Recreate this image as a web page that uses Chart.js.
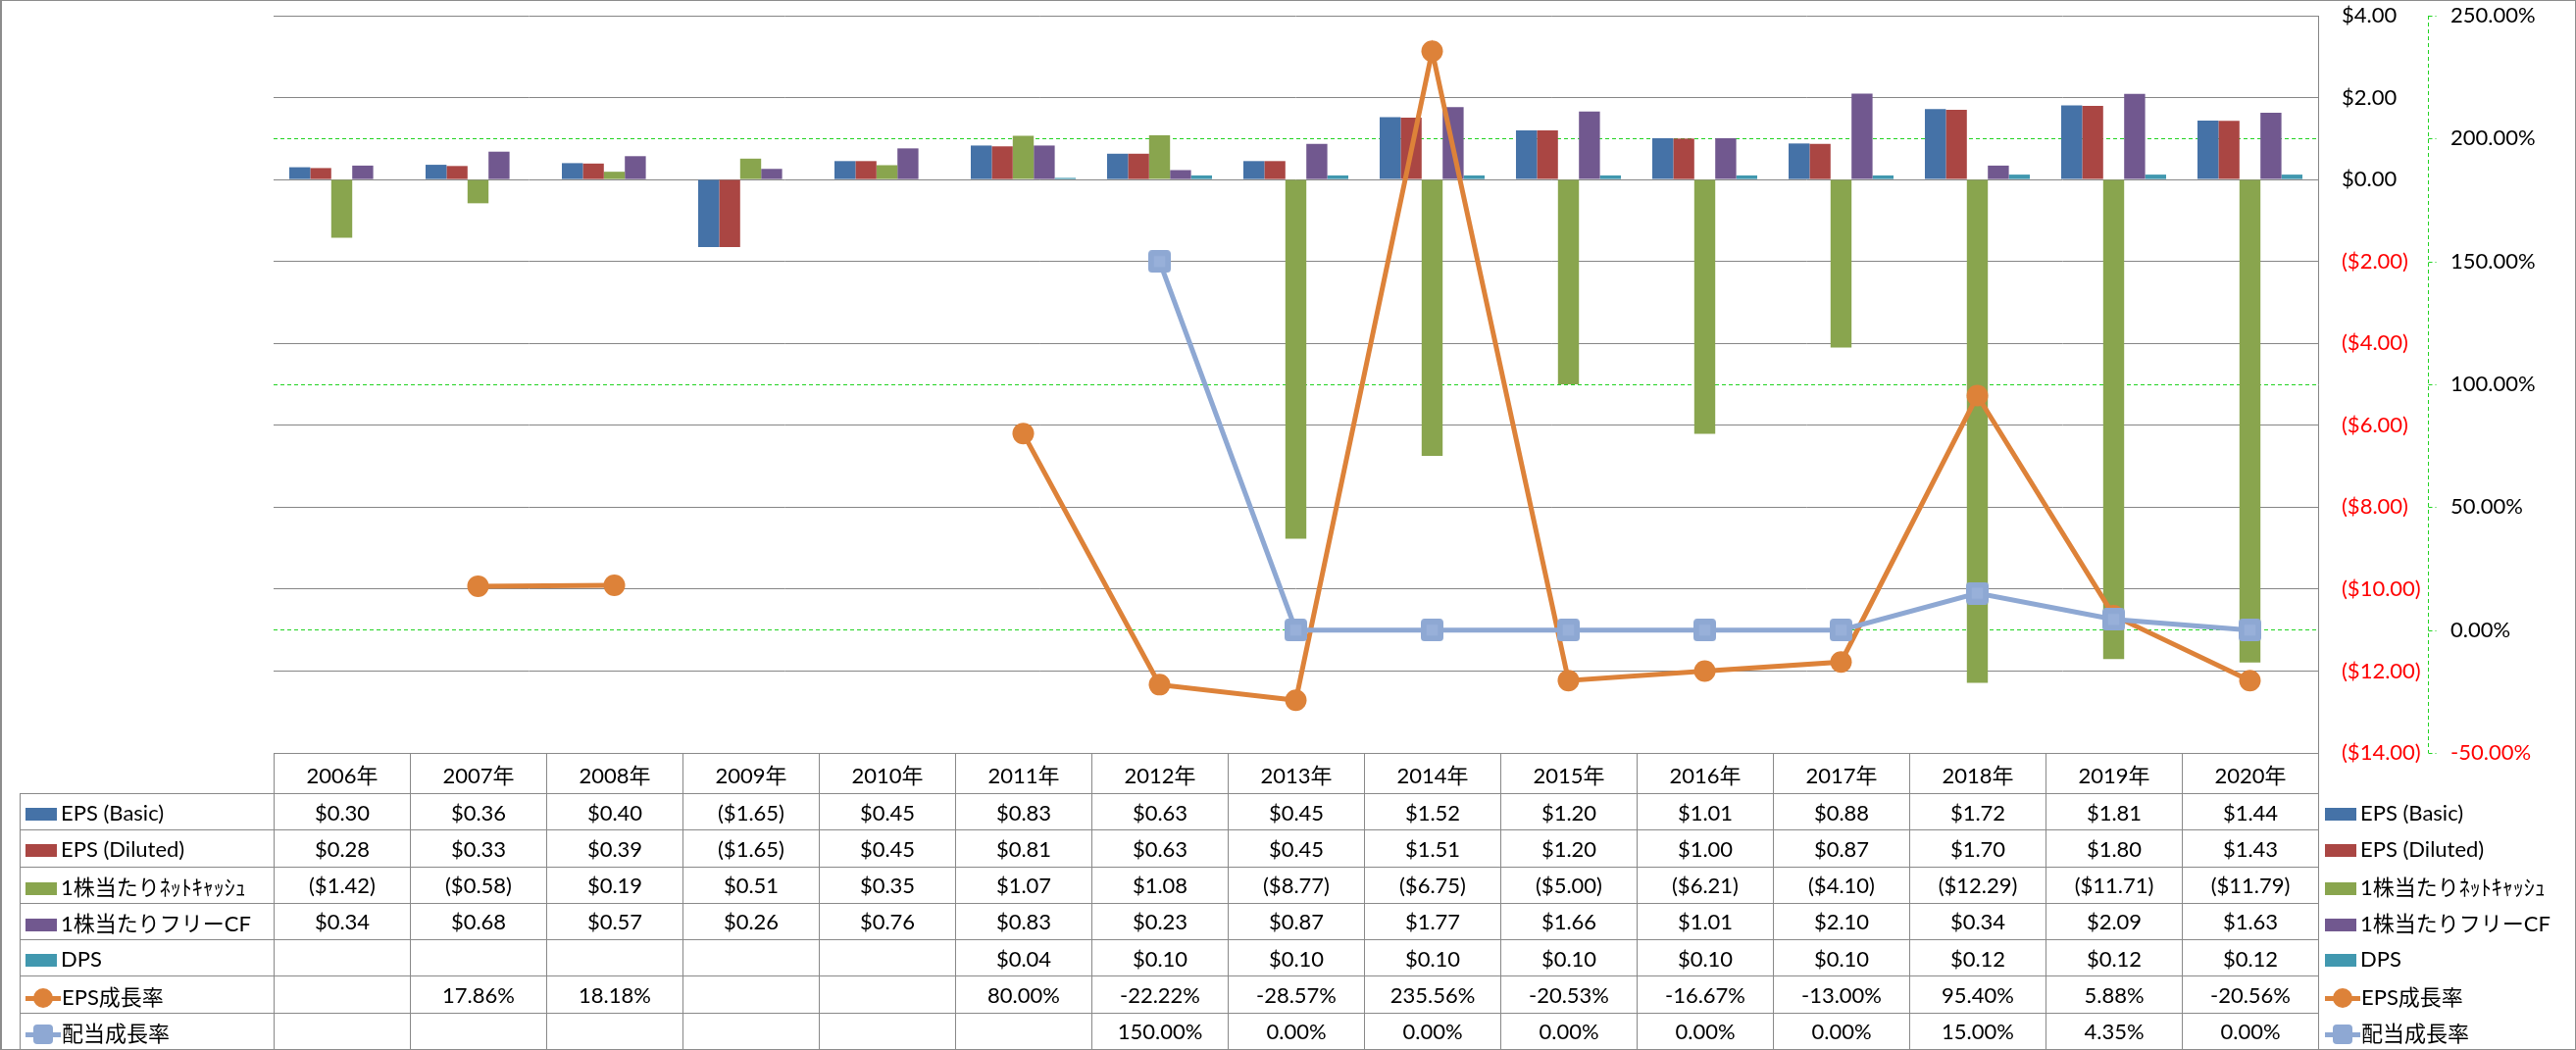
<!DOCTYPE html>
<html lang="ja">
<head>
<meta charset="utf-8">
<title>EPS / CF / DPS</title>
<script src="https://cdn.jsdelivr.net/npm/chart.js@4.4.1/dist/chart.umd.min.js"></script>
<style>
  html, body { margin: 0; padding: 0; background: #fff; }
  #wrap { position: relative; width: 2627px; height: 1071px; overflow: hidden;
          font-family: Lato, "Noto Sans CJK JP", sans-serif; }
  #chart { position: absolute; left: 0; top: 0; }
  #frame { position: absolute; left: 0; top: 0; width: 2627px; height: 1071px; box-sizing: border-box;
           border: 1px solid #8c8c8c; border-left-width: 2px; pointer-events: none; }
  #tbl { position: absolute; border-collapse: collapse; table-layout: fixed; font-size: 22px; color: #000; }
  #tbl td { border: 1px solid #898989; text-align: center; padding: 0; white-space: nowrap; overflow: visible; }
  #tbl td.corner { border-top: none; border-left: none; }
  #tbl td.name { text-align: left; padding-left: 5px; }
  #tbl td.side { border: none; text-align: left; padding-left: 6px; }
  .key { display: inline-block; width: 32px; height: 13px; vertical-align: middle; margin-right: 4px; position: relative; top: -1px; }
  .lkey { display: inline-block; width: 36px; height: 22px; vertical-align: middle; margin-right: 1px; position: relative; top: -1px; }
  .lkey .ln { position: absolute; left: 0; top: 9px; width: 36px; height: 5px; }
  .lkey .mk { position: absolute; left: 8px; top: 1px; width: 20px; height: 20px; }
</style>
</head>
<body>
<div id="wrap">
  <canvas id="chart" width="2627" height="1071"></canvas>
  <table id="tbl"></table>
  <div id="frame"></div>
</div>
<script>
// ---- data ----
const years = ["2006年", "2007年", "2008年", "2009年", "2010年", "2011年", "2012年", "2013年",
               "2014年", "2015年", "2016年", "2017年", "2018年", "2019年", "2020年"];
const epsBasic   = [0.30, 0.36, 0.40, -1.65, 0.45, 0.83, 0.63, 0.45, 1.52, 1.20, 1.01, 0.88, 1.72, 1.81, 1.44];
const epsDiluted = [0.28, 0.33, 0.39, -1.65, 0.45, 0.81, 0.63, 0.45, 1.51, 1.20, 1.00, 0.87, 1.70, 1.80, 1.43];
const netCash    = [-1.42, -0.58, 0.19, 0.51, 0.35, 1.07, 1.08, -8.77, -6.75, -5.00, -6.21, -4.10, -12.29, -11.71, -11.79];
const freeCF     = [0.34, 0.68, 0.57, 0.26, 0.76, 0.83, 0.23, 0.87, 1.77, 1.66, 1.01, 2.10, 0.34, 2.09, 1.63];
const dps        = [null, null, null, null, null, 0.04, 0.10, 0.10, 0.10, 0.10, 0.10, 0.10, 0.12, 0.12, 0.12];
const epsGrowth  = [null, 17.86, 18.18, null, null, 80.00, -22.22, -28.57, 235.56, -20.53, -16.67, -13.00, 95.40, 5.88, -20.56];
const divGrowth  = [null, null, null, null, null, null, 150.00, 0.00, 0.00, 0.00, 0.00, 0.00, 15.00, 4.35, 0.00];

const seriesNames = ["EPS (Basic)", "EPS (Diluted)", "1株当たりﾈｯﾄｷｬｯｼｭ", "1株当たりフリーCF", "DPS", "EPS成長率", "配当成長率"];
const dollarAxis = { min: -14, max: 4, step: 2 };
const pctAxis = { min: -50, max: 250, step: 50 };

// ---- styles ----
const colors = ["#4572a7", "#aa4643", "#89a54e", "#71588f", "#4198af", "#dd8239", "#8ea8d3"];
const FONT = 'Lato, "Noto Sans CJK JP", sans-serif';
const GREEN = "#22d322";

const money = (v) => v == null ? "" : (v < 0 ? "($" + (-v).toFixed(2) + ")" : "$" + v.toFixed(2));
const pct = (v) => v == null ? "" : v.toFixed(2) + "%";

// rounded square marker for 配当成長率
function squareMarker(size, fill, inner) {
  const c = document.createElement("canvas");
  c.width = c.height = size;
  const g = c.getContext("2d");
  const r = 4, s = size;
  g.fillStyle = fill;
  g.beginPath();
  g.moveTo(r, 0); g.lineTo(s - r, 0); g.arcTo(s, 0, s, r, r);
  g.lineTo(s, s - r); g.arcTo(s, s, s - r, s, r);
  g.lineTo(r, s); g.arcTo(0, s, 0, s - r, r);
  g.lineTo(0, r); g.arcTo(0, 0, r, 0, r);
  g.closePath(); g.fill();
  g.fillStyle = inner;
  g.fillRect(s * 0.25, s * 0.25, s * 0.5, s * 0.5);
  return c;
}

// dashed green axis line + short tick marks for the % axis
const pctAxisLine = {
  id: "pctAxisLine",
  afterDraw(chart) {
    const s = chart.scales.y1, ctx = chart.ctx;
    const x0 = Math.round(s.left) + 0.5;
    ctx.save();
    ctx.strokeStyle = GREEN;
    ctx.lineWidth = 1;
    ctx.setLineDash([4, 3]);
    ctx.beginPath();
    ctx.moveTo(x0, s.top);
    ctx.lineTo(x0, s.bottom);
    s.ticks.forEach((t) => {
      const py = Math.round(s.getPixelForValue(t.value)) + 0.5;
      ctx.moveTo(x0, py);
      ctx.lineTo(x0 + 8, py);
    });
    ctx.stroke();
    ctx.restore();
  }
};

const barSeries = [epsBasic, epsDiluted, netCash, freeCF, dps];
const datasets = barSeries.map((d, i) => ({
  type: "bar",
  label: seriesNames[i],
  data: d,
  backgroundColor: colors[i],
  yAxisID: "y",
  order: 3,
  categoryPercentage: 0.77,
  barPercentage: 1.0
}));

datasets.push({
  type: "line",
  label: seriesNames[5],
  data: epsGrowth,
  yAxisID: "y1",
  borderColor: colors[5],
  backgroundColor: colors[5],
  borderWidth: 5,
  pointStyle: "circle",
  pointRadius: 11,
  pointBorderWidth: 0,
  pointBackgroundColor: colors[5],
  spanGaps: false,
  tension: 0,
  order: 2
});
datasets.push({
  type: "line",
  label: seriesNames[6],
  data: divGrowth,
  yAxisID: "y1",
  borderColor: colors[6],
  backgroundColor: colors[6],
  borderWidth: 5,
  pointStyle: squareMarker(23, "#8ea8d3", "#98b0d9"),
  pointRadius: 11,
  spanGaps: false,
  tension: 0,
  order: 1
});

const chart = new Chart(document.getElementById("chart"), {
  type: "bar",
  data: { labels: years, datasets: datasets },
  options: {
    responsive: false,
    animation: false,
    layout: { padding: { left: 279, top: 15, right: 0, bottom: 303 } },
    plugins: { legend: { display: false }, tooltip: { enabled: false } },
    scales: {
      x: { display: false, offset: true },
      y: {
        position: "right",
        weight: 0,
        min: dollarAxis.min, max: dollarAxis.max,
        afterFit: (s) => { s.width = 112; },
        ticks: {
          stepSize: dollarAxis.step,
          padding: 0,
          font: { family: FONT, size: 22 },
          color: (c) => (c.tick && c.tick.value < 0 ? "#ff0000" : "#000000"),
          callback: (v) => money(v)
        },
        grid: { color: "#868686", lineWidth: 1, drawTicks: true, tickLength: 24, tickColor: "rgba(0,0,0,0)" },
        border: { display: true, color: "#868686", width: 1 }
      },
      y1: {
        position: "right",
        weight: 1,
        min: pctAxis.min, max: pctAxis.max,
        afterFit: (s) => { s.width = 151; },
        ticks: {
          stepSize: pctAxis.step,
          padding: 0,
          font: { family: FONT, size: 22 },
          color: (c) => (c.tick && c.tick.value < 0 ? "#ff0000" : "#000000"),
          callback: (v) => pct(v)
        },
        grid: {
          color: (c) => (c.tick && c.tick.value % 100 === 0 ? GREEN : "rgba(0,0,0,0)"),
          lineWidth: 1,
          drawTicks: true,
          tickLength: 23,
          tickColor: "rgba(0,0,0,0)"
        },
        border: { display: false, dash: [4, 3] }
      }
    }
  },
  plugins: [pctAxisLine]
});

// ---- data table under the plot, aligned with the category scale ----
function keyHtml(i) {
  if (i < 5) return '<span class="key" style="background:' + colors[i] + '"></span>';
  const mk = i === 5
    ? '<span class="mk" style="background:' + colors[5] + ';border-radius:50%"></span>'
    : '<span class="mk" style="background:' + colors[6] + ';border-radius:4px"></span>';
  return '<span class="lkey"><span class="ln" style="background:' + colors[i] + '"></span>' + mk + '</span>';
}

function buildTable() {
  const area = chart.chartArea;
  const colW = (area.right - area.left) / years.length;
  const nameW = 259;
  const tbl = document.getElementById("tbl");
  tbl.style.left = (area.left - nameW) + "px";
  tbl.style.top = area.bottom + "px";

  let html = "<colgroup><col style='width:" + nameW + "px'>";
  years.forEach(() => { html += "<col style='width:" + colW + "px'>"; });
  html += "<col style='width:250px'></colgroup>";

  html += "<tr style='height:41px'><td class='corner'></td>";
  years.forEach((y) => { html += "<td>" + y + "</td>"; });
  html += "<td class='side'></td></tr>";

  const rows = [
    barSeries[0].map(money), barSeries[1].map(money), barSeries[2].map(money),
    barSeries[3].map(money), barSeries[4].map(money), epsGrowth.map(pct), divGrowth.map(pct)
  ];
  const rowH = (1070 - area.bottom - 41) / rows.length;
  rows.forEach((cells, i) => {
    html += "<tr style='height:" + rowH + "px'><td class='name'>" + keyHtml(i) + seriesNames[i] + "</td>";
    cells.forEach((t) => { html += "<td>" + t + "</td>"; });
    html += "<td class='side'>" + keyHtml(i) + seriesNames[i] + "</td></tr>";
  });
  tbl.innerHTML = html;
}
buildTable();
</script>
</body>
</html>
